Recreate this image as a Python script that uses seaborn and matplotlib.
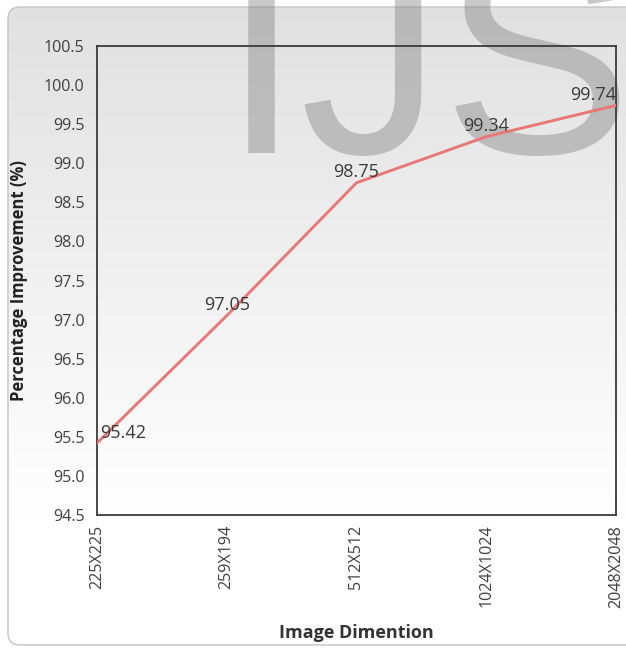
import numpy as np
import pandas as pd
import matplotlib
matplotlib.use("Agg")
import matplotlib.pyplot as plt
from matplotlib.patches import FancyBboxPatch
import seaborn as sns

# Data
dimensions = ["225X225", "259X194", "512X512", "1024X1024", "2048X2048"]
improvement = [95.42, 97.05, 98.75, 99.34, 99.74]
y_ticks = [94.5, 95.0, 95.5, 96.0, 96.5, 97.0, 97.5, 98.0, 98.5, 99.0, 99.5, 100.0, 100.5]

df = pd.DataFrame({"dim": dimensions, "pct": improvement})

sns.set_theme(style="white")
plt.rcParams["font.family"] = ["Open Sans", "DejaVu Sans"]

W, H = 626, 648
fig = plt.figure(figsize=(W / 100, H / 100), dpi=100)
fig.patch.set_facecolor("white")

# Background panel with a vertical gray-to-white gradient
bg = fig.add_axes([0, 0, 1, 1], zorder=-1)
bg.set_xlim(0, W)
bg.set_ylim(H, 0)
bg.axis("off")
grad = np.linspace(0, 1, 256)[:, None]
grad = np.clip(grad / 0.8, 0, 1)
vals = 0.88 + (1.0 - 0.88) * grad
img = np.dstack([vals, vals, vals])
panel = FancyBboxPatch((8, 7), 660, 638, boxstyle="round,pad=0,rounding_size=12",
                       facecolor="none", edgecolor="#c4c4c4", linewidth=1.0)
bg.add_patch(panel)
im = bg.imshow(img, extent=(8, 668, 645, 7), aspect="auto", zorder=0)
im.set_clip_path(panel)

# Watermark
fig.text(222 / W, 1 - 153 / H, "IJS", fontsize=205, family="Liberation Sans",
         color="#888888", alpha=0.45, ha="left", va="baseline", zorder=0.5)

ax = fig.add_axes([97 / W, 1 - 515 / H, (616 - 97) / W, (515 - 46) / H], zorder=1)
ax.patch.set_alpha(0)

sns.lineplot(data=df, x="dim", y="pct", ax=ax, color="#e87878", linewidth=2.1,
             sort=False, zorder=3)

ax.set_xlim(0, len(dimensions) - 1)
ax.set_ylim(94.5, 100.5)
ax.set_yticks(y_ticks)
ax.set_yticklabels([f"{v:.1f}" for v in y_ticks])
ax.set_xticks(range(len(dimensions)))
ax.set_xticklabels(dimensions, rotation=90)
ax.tick_params(axis="both", length=0, labelsize=11.6, labelcolor="#404040")
ax.tick_params(axis="y", pad=9)
ax.tick_params(axis="x", pad=7)

for s in ax.spines.values():
    s.set_visible(True)
    s.set_color("#3a3a3a")
    s.set_linewidth(1.3)

ax.set_xlabel("Image Dimention", fontsize=13, fontweight="bold", color="#333333", va="top")
ax.xaxis.set_label_coords(0.5, -0.232)
ax.set_ylabel("Percentage Improvement (%)", fontsize=12, fontweight="bold", color="#222222")
ax.yaxis.set_label_coords(-0.133, 0.5)

# Value labels above each point
n = len(dimensions)
for i, v in enumerate(improvement):
    ha = "left" if i == 0 else ("right" if i == n - 1 else "center")
    dx = 2 if i == 0 else 0
    ax.annotate(f"{v:.2f}", (i, v), xytext=(dx, 7.5), textcoords="offset points",
                ha=ha, va="center", fontsize=13, color="#3a3a3a", zorder=4)

fig.savefig("out.png", dpi=100)
